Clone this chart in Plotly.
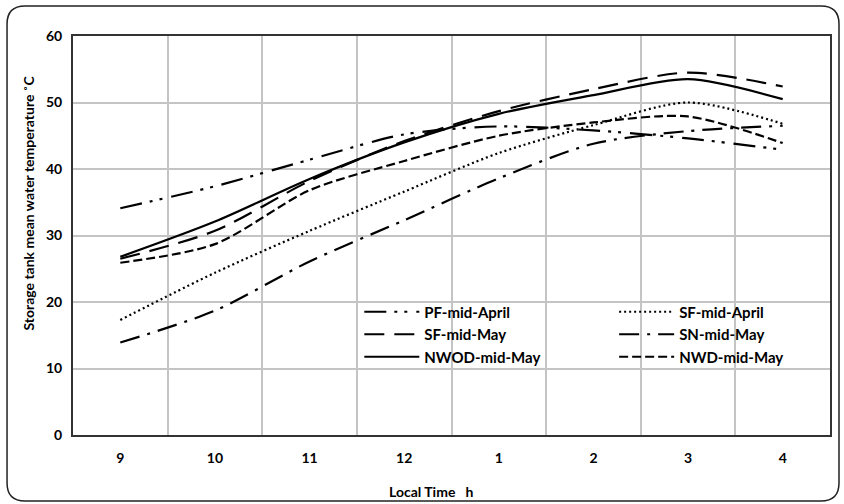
import plotly.graph_objects as go

hours = ["9", "10", "11", "12", "1", "2", "3", "4"]
x_pos = [1, 2, 3, 4, 5, 6, 7, 8]

pf_mid_april = [34.1, 37.4, 41.4, 45.2, 46.4, 45.8, 44.6, 42.9]
sf_mid_april = [17.3, 24.4, 30.7, 36.6, 42.4, 46.6, 50.0, 46.8]
sf_mid_may = [26.5, 30.7, 38.2, 44.2, 48.7, 52.0, 54.5, 52.4]
sn_mid_may = [13.9, 18.7, 26.1, 32.3, 38.6, 43.8, 45.7, 46.5]
nwod_mid_may = [26.8, 32.1, 38.5, 44.0, 48.3, 51.1, 53.5, 50.5]
nwd_mid_may = [25.9, 28.7, 36.8, 41.2, 45.0, 47.0, 47.9, 43.9]

FONT = "Lato, Liberation Sans, sans-serif"

series = [
    ("PF-mid-April", pf_mid_april, "22px,8px,3px,7px,3px,9px", "legend"),
    ("SF-mid-April", sf_mid_april, "2px,3px", "legend2"),
    ("SF-mid-May", sf_mid_may, "20px,10px", "legend"),
    ("SN-mid-May", sn_mid_may, "20px,8px,3px,8px", "legend2"),
    ("NWOD-mid-May", nwod_mid_may, "solid", "legend"),
    ("NWD-mid-May", nwd_mid_may, "9px,4px", "legend2"),
]

fig = go.Figure()
for name, vals, dash, leg in series:
    fig.add_trace(go.Scatter(
        x=x_pos, y=vals, name=name, mode="lines", legendgroup=name,
        line=dict(color="black", width=2.2, dash=dash, shape="spline", smoothing=0.8),
        legend=leg,
    ))

L, R, T, B = 72.5, 830, 36, 435
W, H = 844, 504
def px(x):
    return (x - L) / (R - L)
def py(y):
    return (B - y) / (B - T)

legend_common = dict(
    font=dict(family=FONT, size=15, color="black", weight="bold"),
    bgcolor="rgba(0,0,0,0)", borderwidth=0, itemwidth=55,
    tracegroupgap=2, xanchor="left", yanchor="top", traceorder="normal",
)

# rounded outer frame
r = 18
x0, x1, y0, y1 = 6.5, 839, 6, 501
path = (f"M {px(x0+r)},{py(y0)} L {px(x1-r)},{py(y0)} "
        f"Q {px(x1)},{py(y0)} {px(x1)},{py(y0+r)} L {px(x1)},{py(y1-r)} "
        f"Q {px(x1)},{py(y1)} {px(x1-r)},{py(y1)} L {px(x0+r)},{py(y1)} "
        f"Q {px(x0)},{py(y1)} {px(x0)},{py(y1-r)} L {px(x0)},{py(y0+r)} "
        f"Q {px(x0)},{py(y0)} {px(x0+r)},{py(y0)} Z")

fig.update_layout(
    width=W, height=H,
    margin=dict(l=L, r=W - R, t=T, b=H - B),
    paper_bgcolor="white", plot_bgcolor="white",
    font=dict(family=FONT, color="black"),
    showlegend=True,
    legend=dict(x=px(359), y=py(295.5), **legend_common),
    legend2=dict(x=px(614), y=py(295.5), **legend_common),
    shapes=[dict(type="path", path=path, xref="paper", yref="paper",
                 line=dict(color="#222", width=1.5), layer="below")],
    annotations=[
        dict(text="Local Time   h", x=px(431), y=py(491), xref="paper", yref="paper",
             showarrow=False, xanchor="center", yanchor="middle",
             font=dict(family=FONT, size=14, color="black", weight="bold")),
        dict(text="Storage tank mean water temperature ˚C", x=px(27), y=py(203),
             xref="paper", yref="paper", showarrow=False, textangle=-90,
             xanchor="center", yanchor="middle",
             font=dict(family=FONT, size=14, color="black", weight="bold")),
    ],
)

fig.update_xaxes(
    range=[0.5, 8.5], tickvals=x_pos, ticktext=hours,
    showgrid=False, zeroline=False, ticks="",
    tickfont=dict(family=FONT, size=14, color="black", weight="bold"),
    showline=True, linecolor="#333", linewidth=2, mirror=True,
    minor=dict(tick0=0.5, dtick=1, showgrid=True, gridcolor="#c4c4c4", gridwidth=1.5),
    ticklabelstandoff=9,
)
fig.update_yaxes(
    range=[0, 60], dtick=10, showgrid=True, gridcolor="#c4c4c4", gridwidth=1.5,
    zeroline=False, ticks="",
    tickfont=dict(family=FONT, size=14, color="black", weight="bold"),
    showline=True, linecolor="#333", linewidth=2, mirror=True,
    ticklabelstandoff=6,
)

fig.write_html("out.html")
